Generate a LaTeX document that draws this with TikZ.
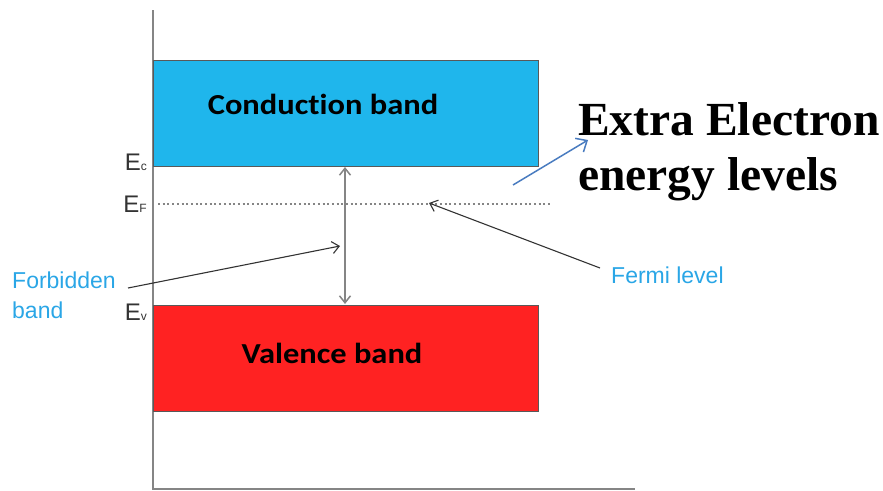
\documentclass[tikz,border=0pt]{standalone}
\usepackage{fontspec}
\setmainfont{Liberation Sans}
\newfontfamily\calb[FakeStretch=1.12, Ligatures={NoCommon}]{Carlito}
\newfontfamily\timesf{Liberation Serif}
\usetikzlibrary{arrows.meta}
\definecolor{cband}{HTML}{1FB6EC}
\definecolor{vband}{HTML}{FF2222}
\definecolor{lbl}{HTML}{2AA6E6}
\definecolor{barrow}{HTML}{4A7CC0}
\definecolor{axisgray}{HTML}{858585}
\begin{document}
\begin{tikzpicture}[x=1pt,y=-1pt,
  band/.style={draw=black!65, line width=1.2pt, minimum width=385pt, minimum height=106pt, inner sep=0pt, anchor=north west},
  bandtext/.style={font=\calb\bfseries\fontsize{29}{30}\selectfont, text=black, inner sep=0pt},
  elabel/.style={font=\fontsize{24}{24}\selectfont, text=black!80, anchor=base east, inner sep=0pt},
  bluelabel/.style={font=\fontsize{23}{30}\selectfont, text=lbl, align=left, inner sep=0pt},
  pointer/.style={draw=black!80, line width=1.1pt, -{Straight Barb[length=7pt,width=12pt]}},
  gap/.style={draw=axisgray, line width=1.5pt, {Straight Barb[length=7pt,width=11pt]}-{Straight Barb[length=7pt,width=11pt]}},
  bluearrow/.style={draw=barrow, line width=1.5pt, -{Straight Barb[length=9pt,width=16pt]}}]
\useasboundingbox (0,0) rectangle (883,490);
% axes
\draw[axisgray, line width=2pt] (153,10) -- (153,489) -- (635,489);
% bands
\node[band, fill=cband] (cb) at (153,60) {};
\node[band, fill=vband] (vb) at (153,305) {};
\node[bandtext] (cbt) at (323,104) {Conduction band};
\node[bandtext] (vbt) at (332,353) {Valence band};
% Fermi level dotted line
\coordinate (ef1) at (158,204);
\coordinate (ef2) at (550,204);
\draw[axisgray, line width=1.6pt, dash pattern=on 2pt off 2.7pt] (ef1) -- (ef2);
% energy labels
\node[elabel] (ec) at (147,170) {E{\fontsize{12}{12}\selectfont c}};
\node[elabel] (efl) at (147,212) {E{\fontsize{12}{12}\selectfont F}};
\node[elabel] (ev) at (147,320) {E{\fontsize{12}{12}\selectfont v}};
% gap arrow
\coordinate (gtop) at (345,167);
\coordinate (gbot) at (345,304);
\draw[gap] (gtop) -- (gbot);
% labels
\node[bluelabel, anchor=base west] (fb) at (12,318) {Forbidden\\band};
\node[bluelabel, anchor=base west] (fl) at (611,283) {Fermi level};
\coordinate (fbs) at (128,288);
\coordinate (fbe) at (340,246);
\draw[pointer] (fbs) -- (fbe);
\coordinate (fls) at (600,268);
\coordinate (fle) at (429,203);
\draw[pointer] (fls) -- (fle);
% extra electron text
\node[anchor=base west, align=left, inner sep=0pt, font=\timesf\bfseries\fontsize{47.5}{55}\selectfont] (ex) at (578,190) {Extra Electron\\energy levels};
\coordinate (bas) at (513,185);
\coordinate (bae) at (588,140);
\draw[bluearrow] (bas) -- (bae);
\end{tikzpicture}
\end{document}
